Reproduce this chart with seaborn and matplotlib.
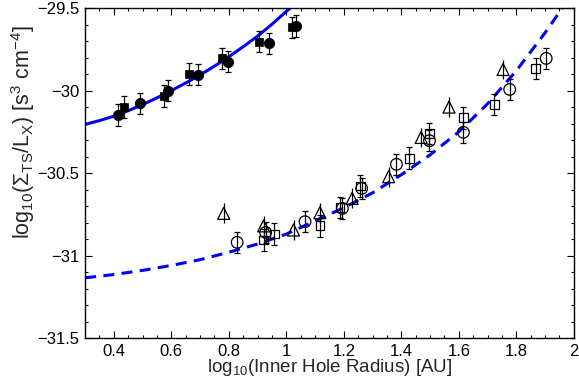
import seaborn as sns
import matplotlib
matplotlib.use("Agg")
import matplotlib.pyplot as plt
from matplotlib.ticker import MultipleLocator, FuncFormatter
import pandas as pd

sns.set_style('ticks')
plt.rcParams['font.family'] = ['Liberation Sans', 'DejaVu Sans']
plt.rcParams['mathtext.default'] = 'regular'

# filled points (near the solid curve)
fsq_x = [0.437, 0.575, 0.660, 0.775, 0.906, 1.019]
fsq_y = [-30.10, -30.033, -29.90, -29.805, -29.704, -29.617]
fci_x = [0.416, 0.491, 0.589, 0.693, 0.797, 0.940, 1.033]
fci_y = [-30.148, -30.078, -30.00, -29.904, -29.825, -29.714, -29.609]
fsq_err = [0.065, 0.065, 0.065, 0.065, 0.065, 0.065]
fci_err = [0.065, 0.065, 0.065, 0.065, 0.065, 0.065, 0.065]

# open points (near the dashed curve)
otri_x = [0.782, 0.921, 1.025, 1.117, 1.229, 1.356, 1.469, 1.566, 1.754]
otri_y = [-30.744, -30.82, -30.845, -30.74, -30.653, -30.522, -30.284, -30.10, -29.872]
otri_err = [0.06, 0.06, 0.06, 0.06, 0.06, 0.06, 0.06, 0.06, 0.06]
oci_x = [0.829, 0.928, 1.065, 1.195, 1.262, 1.383, 1.498, 1.616, 1.777, 1.904]
oci_y = [-30.92, -30.86, -30.795, -30.714, -30.593, -30.447, -30.304, -30.253, -29.993, -29.805]
oci_err = [0.064, 0.064, 0.064, 0.064, 0.064, 0.064, 0.064, 0.064, 0.064, 0.064]
osq_x = [0.921, 0.958, 1.117, 1.187, 1.258, 1.428, 1.498, 1.616, 1.723, 1.867]
osq_y = [-30.906, -30.87, -30.82, -30.708, -30.579, -30.41, -30.26, -30.165, -30.084, -29.866]
osq_err = [0.065, 0.065, 0.065, 0.065, 0.065, 0.065, 0.065, 0.065, 0.065, 0.065]

# fitted curves
solid_x = [0.3, 0.35, 0.4, 0.45, 0.5, 0.55, 0.6, 0.65, 0.7, 0.75, 0.8, 0.85, 0.9, 0.95, 1.0, 1.013]
solid_y = [-30.205, -30.182, -30.155, -30.122, -30.085, -30.044, -30.0, -29.954, -29.905, -29.852,
           -29.795, -29.734, -29.67, -29.598, -29.52, -29.5]
dash_x = [0.3, 0.4, 0.5, 0.6, 0.7, 0.8, 0.9, 1.0, 1.1, 1.2, 1.3, 1.4, 1.5, 1.6, 1.7, 1.8, 1.9, 1.96]
dash_y = [-31.135, -31.115, -31.09, -31.06, -31.025, -30.98, -30.93, -30.87, -30.79, -30.71,
          -30.62, -30.51, -30.39, -30.25, -30.08, -29.88, -29.65, -29.5]

fig = plt.figure(figsize=(5.79, 3.85), dpi=100)
ax = fig.add_axes([0.147, 0.122, 0.844, 0.857])

solid = pd.DataFrame({"x": solid_x, "y": solid_y})
dash = pd.DataFrame({"x": dash_x, "y": dash_y})
sns.lineplot(data=solid, x="x", y="y", ax=ax, color="#0000ff", lw=2.2, sort=False, zorder=2)
sns.lineplot(data=dash, x="x", y="y", ax=ax, color="#0000ff", lw=2.2, sort=False, zorder=2,
             dashes=False)
ax.lines[-1].set_dashes([3.6, 2.4])

ebkw = dict(fmt='none', ecolor='black', elinewidth=0.9, zorder=3)
ax.errorbar(fsq_x, fsq_y, yerr=fsq_err, capsize=2.5, capthick=0.9, **ebkw)
ax.errorbar(fci_x, fci_y, yerr=fci_err, capsize=2.5, capthick=0.9, **ebkw)
ax.errorbar(otri_x, otri_y, yerr=otri_err, capsize=0, **ebkw)
ax.errorbar(oci_x, oci_y, yerr=oci_err, capsize=2.5, capthick=0.9, **ebkw)
ax.errorbar(osq_x, osq_y, yerr=osq_err, capsize=2.5, capthick=0.9, **ebkw)

sns.scatterplot(x=fsq_x, y=fsq_y, ax=ax, marker='s', s=40, color='black', edgecolor='black', zorder=4)
sns.scatterplot(x=fci_x, y=fci_y, ax=ax, marker='o', s=55, color='black', edgecolor='black', zorder=4)
sns.scatterplot(x=otri_x, y=otri_y, ax=ax, marker='^', s=75, facecolor='none', edgecolor='black',
                linewidth=0.9, zorder=4)
sns.scatterplot(x=oci_x, y=oci_y, ax=ax, marker='o', s=70, facecolor='none', edgecolor='black',
                linewidth=0.9, zorder=4)
sns.scatterplot(x=osq_x, y=osq_y, ax=ax, marker='s', s=40, facecolor='none', edgecolor='black',
                linewidth=0.9, zorder=4)

ax.set_xlim(0.3, 2)
ax.set_ylim(-31.5, -29.5)
ax.xaxis.set_major_locator(MultipleLocator(0.2))
ax.xaxis.set_minor_locator(MultipleLocator(0.05))
ax.yaxis.set_major_locator(MultipleLocator(0.5))
ax.yaxis.set_minor_locator(MultipleLocator(0.1))
fmt = FuncFormatter(lambda v, p: ('%g' % round(v, 3)).replace('-', '\u2212'))
ax.xaxis.set_major_formatter(fmt)
ax.yaxis.set_major_formatter(fmt)
ax.tick_params(which='both', direction='in', top=True, right=True, width=0.8, labelsize=12,
               colors='black', pad=4)
ax.tick_params(which='major', length=5)
ax.tick_params(which='minor', length=2.5)
for s in ax.spines.values():
    s.set_linewidth(1.0)
    s.set_color('black')

ax.set_xlabel(r"log$_{10}$(Inner Hole Radius) [AU]", fontsize=13.5, labelpad=-1)
ax.set_ylabel(r"log$_{10}$(Σ$_{TS}$/L$_X$) [s$^3$ cm$^{-4}$]", fontsize=15.5, labelpad=0)
ax.yaxis.label.set_y(0.625)

plt.savefig("out.png", dpi=100)
plt.close()
